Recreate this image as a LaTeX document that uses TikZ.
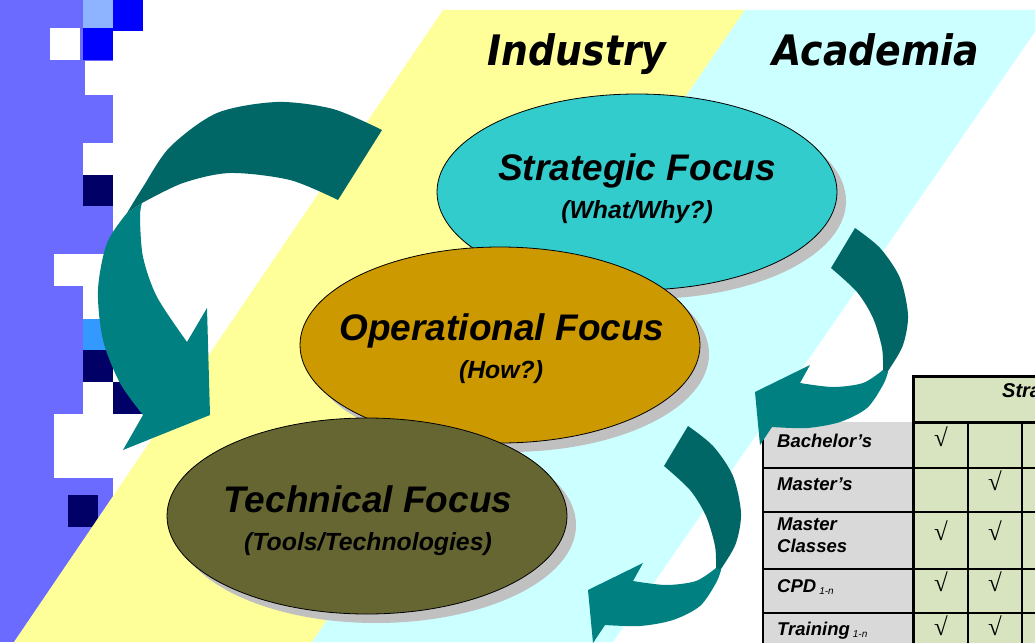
\documentclass[tikz,border=0pt]{standalone}
\usepackage{fontspec}
\setmainfont{Liberation Sans}
\newfontfamily\verdfont[FakeStretch=0.9]{DejaVu Sans}
\newfontfamily\chkfont{Liberation Serif}
\usetikzlibrary{shapes.geometric,shadows}
\definecolor{purp}{HTML}{6B6BFF}
\definecolor{lblue}{HTML}{8FB4FF}
\definecolor{pblue}{HTML}{0000FF}
\definecolor{mblue}{HTML}{3399FF}
\definecolor{navy}{HTML}{000066}
\definecolor{bandY}{HTML}{FFFF99}
\definecolor{bandC}{HTML}{CCFFFF}
\definecolor{stratc}{HTML}{33CCCC}
\definecolor{operc}{HTML}{CC9900}
\definecolor{techc}{HTML}{666633}
\definecolor{shadowgray}{HTML}{C0C0C0}
\definecolor{arrdark}{HTML}{006666}
\definecolor{arrlight}{HTML}{008080}
\definecolor{tgreen}{HTML}{D8E4BF}
\definecolor{tgray}{HTML}{D9D9D9}
\newcommand\TealArrowPiece{%
  \fill[arrdark] plot[smooth] coordinates {(855,228) (880,248) (900,278) (908,315) (903,345) (890,368) (880,382)}
    -- (883,370) -- plot[smooth] coordinates {(883,370) (882,348) (873,318) (857,292) (831,268)} -- cycle;
  \fill[arrlight] plot[smooth] coordinates {(883,370) (863,383) (833,387) (800,383)}
    -- (810,365) -- (755,392) -- (760,445) -- (772,427)
    -- plot[smooth] coordinates {(772,427) (807,428) (840,422) (867,408) (883,385) (888,372)} -- cycle;
}
\begin{document}
\begin{tikzpicture}[x=1pt,y=-1pt,
  ell/.style={ellipse, draw=black, line width=0.8pt, minimum width=400pt, minimum height=196pt, inner sep=0pt,
    drop shadow={shadow xshift=9pt, shadow yshift=-9pt, fill=shadowgray, opacity=1}},
  lab/.style={font=\fontsize{37}{42}\selectfont\bfseries\itshape, anchor=base, inner sep=0pt},
  sublab/.style={font=\fontsize{24.8}{28}\selectfont\bfseries\itshape, anchor=base, inner sep=0pt},
  hdr/.style={font=\verdfont\fontsize{42}{46}\selectfont\bfseries\itshape, anchor=base, inner sep=0pt},
  celltxt/.style={font=\fontsize{18.5}{21}\selectfont\bfseries\itshape, anchor=base west, inner sep=0pt},
  chk/.style={font=\chkfont\fontsize{25}{25}\selectfont, inner sep=0pt}]
\useasboundingbox (0,0) rectangle (1035,642);
\clip (0,0) rectangle (1035,642);
\fill[white] (0,0) rectangle (1035,642);
% left decorative strip
\fill[purp] (0,0) rectangle (113,642);
\fill[lblue] (83,0) rectangle (113,28);
\fill[pblue] (113,0) rectangle (143,31);
\fill[white] (50,28) rectangle (80,60);
\fill[pblue] (83,28) rectangle (113,60);
\fill[white] (85,61) rectangle (113,95);
\fill[white] (83,143) rectangle (113,175);
\fill[navy] (83,175) rectangle (113,206);
\fill[white] (54,254) rectangle (113,286);
\fill[white] (83,286) rectangle (113,319);
\fill[mblue] (83,319) rectangle (113,350);
\fill[navy] (83,350) rectangle (113,382);
\fill[white] (83,382) rectangle (113,414);
\fill[navy] (113,382) rectangle (143,414);
\fill[white] (54,414) rectangle (113,478);
\fill[navy] (68,495) rectangle (98,527);
% bands
\fill[bandY] (443,10) -- (745,10) -- (312,642) -- (14,642) -- cycle;
\fill[bandC] (745,10) -- (1050,10) -- (613,642) -- (312,642) -- cycle;
\node[hdr] (ind) at (577,66) {Industry};
\node[hdr] (acad) at (876,66) {Academia};
% ellipses
\node[ell, fill=stratc] (strat) at (637,192) {};
\node[ell, fill=operc] (oper) at (500,345) {};
\node[ell, fill=techc] (tech) at (367,516) {};
\node[lab] (stratT) at (637,180) {Strategic Focus};
\node[sublab] (stratS) at (637,218) {(What/Why?)};
\node[lab] (operT) at (502,340) {Operational Focus};
\node[sublab] (operS) at (501,378) {(How?)};
\node[lab] (techT) at (368,512) {Technical Focus};
\node[sublab] (techS) at (368,550) {(Tools/Technologies)};
% table
\fill[tgreen] (913,376) rectangle (1045,422);
\fill[tgray] (763,422) rectangle (913,650);
\fill[tgreen] (913,422) rectangle (1045,650);
\foreach \yy in {468,512,569,613} \draw[line width=2pt] (763,\yy) -- (1045,\yy);
\draw[line width=2pt] (763,422) -- (763,650);
\draw[line width=2pt] (968,422) -- (968,650);
\draw[line width=2pt] (1022,422) -- (1022,650);
\draw[line width=3pt] (913,422) -- (913,650);
\draw[line width=3pt] (913,376) rectangle (1050,422);
\node[celltxt, font=\fontsize{20}{22}\selectfont\bfseries\itshape] (hd) at (1002,397) {Strategic};
\node[celltxt] (r1) at (777,447) {Bachelor’s};
\node[celltxt] (r2) at (777,490) {Master’s};
\node[celltxt] (r3a) at (777,530) {Master};
\node[celltxt] (r3b) at (777,552) {Classes};
\node[celltxt] (r4) at (777,592) {CPD\,\raisebox{-2pt}{\fontsize{10}{10}\selectfont\mdseries\itshape 1-n}};
\node[celltxt] (r5) at (777,635) {Training\,\raisebox{-2pt}{\fontsize{10}{10}\selectfont\mdseries\itshape 1-n}};
\node[chk] (c11) at (941,437) {√};
\node[chk] (c22) at (995,481) {√};
\node[chk] (c31) at (941,531) {√};
\node[chk] (c32) at (995,531) {√};
\node[chk] (c41) at (941,582) {√};
\node[chk] (c42) at (995,582) {√};
\node[chk] (c51) at (941,626) {√};
\node[chk] (c52) at (995,626) {√};
% left big arrow
\fill[arrdark] plot[smooth] coordinates {(382,130) (333,109) (277,102) (217,113) (170,147) (143,187) (127,213)}
  -- (142,203) -- plot[smooth] coordinates {(142,203) (183,183) (230,173) (290,180) (338,200)} -- cycle;
\fill[arrlight] (127,213) -- (142,203)
  -- plot[smooth] coordinates {(142,203) (140,217) (143,257) (157,297) (187,342)}
  -- (207,308) -- (210,415) -- (123,450) -- (143,415)
  -- plot[smooth] coordinates {(143,415) (120,383) (103,340) (98,290) (107,243) (127,213)} -- cycle;
% right arrows
\TealArrowPiece
\begin{scope}[shift={(-167,198)}]
\TealArrowPiece
\end{scope}
\end{tikzpicture}
\end{document}
